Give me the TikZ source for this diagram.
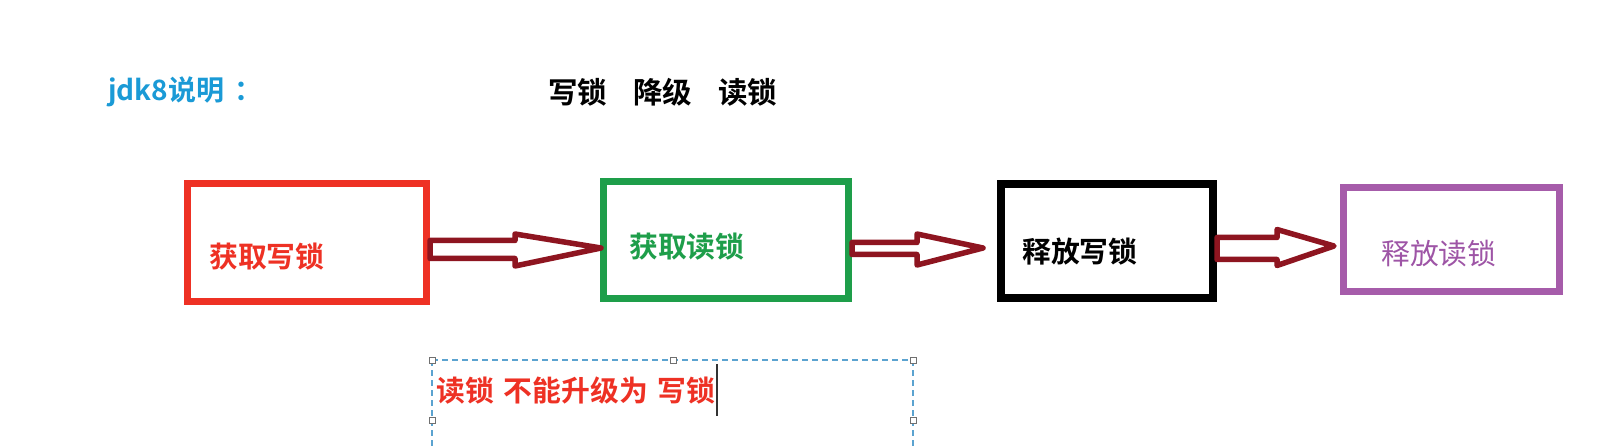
\documentclass[tikz,border=0pt]{standalone}
\usepackage{fontspec}
\newfontfamily\cjk{Noto Sans CJK SC}[BoldFont={Noto Sans CJK SC Bold}]
\definecolor{cred}{HTML}{EE3124}
\definecolor{cgreen}{HTML}{1E9E4A}
\definecolor{cpurple}{HTML}{A65CAA}
\definecolor{ctxtpurple}{HTML}{9E55A6}
\definecolor{carrow}{HTML}{8E1520}
\definecolor{cblue}{HTML}{1A9AD6}
\definecolor{cdash}{HTML}{5BA3D0}
\definecolor{chandle}{HTML}{707070}
\begin{document}
\begin{tikzpicture}[x=1pt,y=-1pt,
  boxnode/.style={draw, line width=7pt, inner sep=0pt, fill=white},
  lbl/.style={inner sep=0pt, anchor=west, font=\cjk\bfseries\fontsize{28.8}{30}\selectfont},
  hollowarrow/.style={draw=carrow, fill=white, line width=5.5pt, line join=round},
  handle/.style={draw=chandle, fill=white, line width=1pt, minimum size=6pt, inner sep=0pt, rectangle},
  selbox/.style={draw=cdash, line width=1.2pt, dash pattern=on 6pt off 4pt}
]
\clip (0,0) rectangle (1600,446);
\fill[white] (0,0) rectangle (1600,446);

% titles
\node[lbl, text=cblue, font=\cjk\bfseries\fontsize{28}{30}\selectfont] (title) at (108,92) {jdk8说明\hspace{10pt}：};
\node[lbl, text=black, font=\cjk\bfseries\fontsize{29.5}{31}\selectfont] (subtitle) at (548,92) {写锁\hspace{26pt}降级\hspace{26pt}读锁};

% boxes
\node[boxnode, draw=cred, minimum width=239pt, minimum height=118pt] (b1) at (307,242.5) {};
\node[boxnode, draw=cgreen, minimum width=245pt, minimum height=117pt] (b2) at (726,240) {};
\node[boxnode, draw=black, line width=8pt, minimum width=212pt, minimum height=114pt] (b3) at (1107,241) {};
\node[boxnode, draw=cpurple, minimum width=216pt, minimum height=104pt] (b4) at (1451.5,239.5) {};

% box labels
\node[lbl, text=cred] (t1) at (209,257) {获取写锁};
\node[lbl, text=cgreen] (t2) at (629,247) {获取读锁};
\node[lbl, text=black] (t3) at (1022,252) {释放写锁};
\node[lbl, text=ctxtpurple, font=\cjk\fontsize{28.8}{30}\selectfont] (t4) at (1381,254) {释放读锁};

% hollow block arrows
\draw[hollowarrow] (b1.east |- 0,240.5) -- (515,240.5) -- (515,234) -- (601,248)
  -- (515,266) -- (515,258.5) -- (b1.east |- 0,258.5) -- cycle;
\draw[hollowarrow] (b2.east |- 0,242.5) -- (917,242.5) -- (917,234) -- (983,248)
  -- (917,265) -- (917,254.5) -- (b2.east |- 0,254.5) -- cycle;
\draw[hollowarrow] (b3.east |- 0,237.5) -- (1277,237.5) -- (1277,229.5) -- (1334,246)
  -- (1277,265.5) -- (1277,259.5) -- (b3.east |- 0,259.5) -- cycle;

% selected text box
\draw[selbox] (432,360) -- (913,360);
\draw[selbox] (432,360) -- (432,460);
\draw[selbox] (913,360) -- (913,460);
\node[handle] (h1) at (432,360) {};
\node[handle] (h2) at (673,360) {};
\node[handle] (h3) at (913,360) {};
\node[handle] (h4) at (432,420) {};
\node[handle] (h5) at (913,420) {};
\node[lbl, text=cred] (note) at (436,391) {读锁\hspace{10pt}不能升级为\hspace{10pt}写锁};
\coordinate (caretTop) at (717,364);
\coordinate (caretBot) at (717,416);
\draw[line width=1.8pt, black!80] (caretTop) -- (caretBot);
\end{tikzpicture}
\end{document}
